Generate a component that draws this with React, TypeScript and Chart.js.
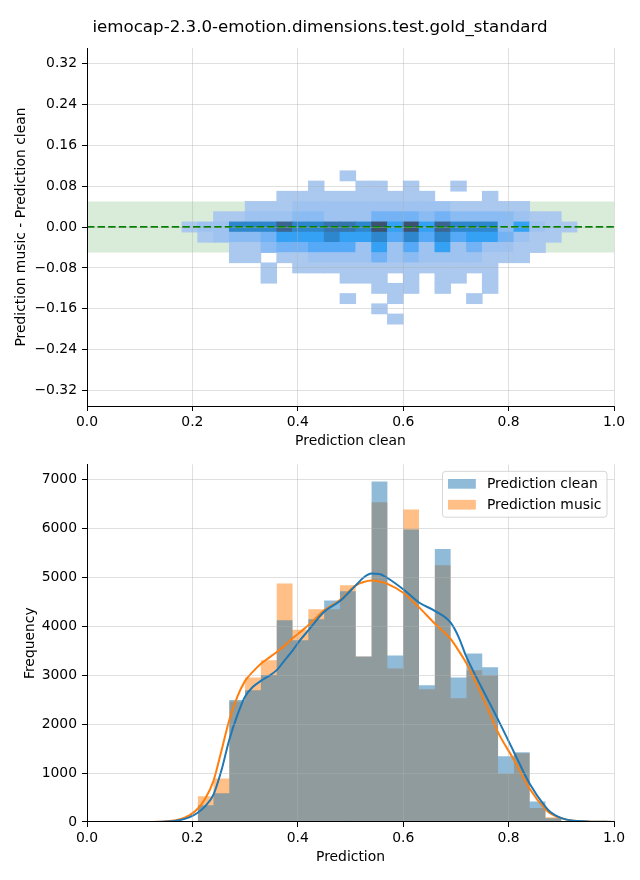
import React, { useEffect, useRef } from "react";
import { Chart, registerables } from "chart.js";

Chart.register(...registerables);

const FONT = "'DejaVu Sans', 'Liberation Sans', sans-serif";
const TICK_SIZE = 13.9;
const GRID = "rgba(176,176,176,0.5)";

const TITLE = "iemocap-2.3.0-emotion.dimensions.test.gold_standard";
const TOP_X_LABEL = "Prediction clean";
const TOP_Y_LABEL = "Prediction music - Prediction clean";
const BOTTOM_X_LABEL = "Prediction";
const BOTTOM_Y_LABEL = "Frequency";
const LEGEND_LABELS = ["Prediction clean", "Prediction music"];

const X_TICKS = [0, 0.2, 0.4, 0.6, 0.8, 1.0];
const DIFF_TICKS = [-0.32, -0.24, -0.16, -0.08, 0, 0.08, 0.16, 0.24, 0.32];
const FREQ_TICKS = [0, 1000, 2000, 3000, 4000, 5000, 6000, 7000];
const X_RANGE = [0, 1];
const DIFF_RANGE = [-0.35, 0.35];
const FREQ_RANGE = [0, 7300];

// top panel: tolerance band and zero line
const BAND_LIMITS = [-0.05, 0.05];
const ZERO_LINE = 0;

// top panel: 2D histogram cells (columns by prediction clean, rows by difference)
const CELL_X_EDGES = [0.18, 0.21, 0.24, 0.27, 0.3, 0.33, 0.36, 0.39, 0.42, 0.45, 0.48, 0.51, 0.54, 0.57, 0.6, 0.63, 0.66, 0.69, 0.72, 0.75, 0.78, 0.81, 0.84, 0.87, 0.9, 0.93];
const CELL_Y_CENTERS = [0.1, 0.08, 0.06, 0.04, 0.02, 0, -0.02, -0.04, -0.06, -0.08, -0.1, -0.12, -0.14, -0.16, -0.18];
const CELL_Y_HEIGHT = 0.02;
const HEAT_LEVELS = [
  "0000000000100000000000000",
  "0000000010011010010000000",
  "0000001111111111000100000",
  "0000111222222222211111000",
  "0011222332224443433332110",
  "122777977887A6A6977736211",
  "0123346667667575756642110",
  "0001134455526252624221100",
  "0001101122224232222111000",
  "0000010111111111111100000",
  "0000010000111010110100000",
  "0000000000001110100100000",
  "0000000000100100001000000",
  "0000000000001000000000000",
  "0000000000000100000000000",
];
const LEVEL_COLORS = ["", "#abc8ee", "#9ec3f1", "#8abcf3", "#72b2f5", "#56a9f6", "#35a1f4", "#2e87cd", "#3574ad", "#3b6590", "#3d5270"];

// bottom panel: histograms
const HIST_EDGES = [0.21, 0.24, 0.27, 0.3, 0.33, 0.36, 0.39, 0.42, 0.45, 0.48, 0.51, 0.54, 0.57, 0.6, 0.63, 0.66, 0.69, 0.72, 0.75, 0.78, 0.81, 0.84, 0.87, 0.9, 0.93];
const CLEAN_COUNTS = [340, 585, 2490, 2690, 3000, 4120, 3710, 4140, 4520, 4710, 3380, 6950, 3400, 5970, 2790, 5570, 2950, 3440, 3160, 1340, 1425, 420, 75, 15];
const MUSIC_COUNTS = [525, 890, 2460, 2950, 3300, 4870, 3925, 4340, 4340, 4830, 3380, 6525, 3135, 6380, 2710, 5240, 2525, 3095, 2995, 985, 1405, 285, 95, 20];

// bottom panel: KDE curves (scaled to counts)
const KDE_X = [0.125, 0.15, 0.175, 0.195, 0.21, 0.225, 0.24, 0.255, 0.27, 0.285, 0.3, 0.315, 0.33, 0.345, 0.36, 0.375, 0.39, 0.405, 0.42, 0.45, 0.48, 0.51, 0.525, 0.54, 0.555, 0.57, 0.6, 0.63, 0.66, 0.69, 0.705, 0.72, 0.75, 0.78, 0.81, 0.84, 0.87, 0.88, 0.91, 0.95, 1.0];
const CLEAN_KDE = [0, 8, 35, 100, 190, 330, 560, 1050, 1680, 2170, 2560, 2760, 2880, 2980, 3100, 3300, 3500, 3720, 3910, 4290, 4510, 4830, 4990, 5070, 5060, 4980, 4750, 4480, 4310, 4070, 3780, 3370, 2720, 2090, 1430, 780, 310, 200, 48, 12, 1];
const MUSIC_KDE = [0, 12, 50, 140, 270, 490, 840, 1450, 2080, 2550, 2880, 3070, 3230, 3350, 3470, 3600, 3750, 3880, 4015, 4320, 4530, 4830, 4900, 4930, 4910, 4860, 4680, 4380, 4050, 3740, 3500, 3240, 2570, 1830, 1270, 680, 260, 170, 48, 10, 1];

const BLUE = "#1f77b4";
const ORANGE = "#ff7f0e";
const BLUE_FILL = "rgba(31,119,180,0.5)";
const ORANGE_FILL = "rgba(255,127,14,0.5)";

const fmtMinus = (v: number, d: number) => (v < -1e-9 ? "\u2212" : "") + Math.abs(v).toFixed(d);

function xAxis(height: number, label: string, titlePad: number) {
  return {
    type: "linear",
    min: X_RANGE[0],
    max: X_RANGE[1],
    offset: false,
    afterBuildTicks: (s: any) => {
      s.ticks = X_TICKS.map((v) => ({ value: v }));
    },
    afterFit: (s: any) => {
      s.height = height;
    },
    ticks: {
      callback: (v: any) => Number(v).toFixed(1),
      color: "#000",
      font: { family: FONT, size: TICK_SIZE },
      padding: 3,
      maxRotation: 0,
      autoSkip: false,
    },
    grid: { color: GRID, lineWidth: 0.8, z: 1, tickColor: "#000", tickLength: 5, tickWidth: 1, offset: false },
    border: { color: "#000", width: 1, z: 2 },
    title: { display: true, text: label, color: "#000", font: { family: FONT, size: TICK_SIZE }, padding: { top: 0, bottom: titlePad } },
  };
}

function yAxis(range: number[], ticks: number[], fmt: (v: number) => string, label: string, titlePad: number) {
  return {
    type: "linear",
    min: range[0],
    max: range[1],
    afterBuildTicks: (s: any) => {
      s.ticks = ticks.map((v) => ({ value: v }));
    },
    afterFit: (s: any) => {
      s.width = 87;
    },
    ticks: {
      callback: (v: any) => fmt(Number(v)),
      color: "#000",
      font: { family: FONT, size: TICK_SIZE },
      padding: 5,
      autoSkip: false,
    },
    grid: { color: GRID, lineWidth: 0.8, z: 1, tickColor: "#000", tickLength: 5, tickWidth: 1 },
    border: { color: "#000", width: 1, z: 2 },
    title: { display: true, text: label, color: "#000", font: { family: FONT, size: TICK_SIZE }, padding: { top: titlePad, bottom: 0 } },
  };
}

const suptitlePlugin = {
  id: "suptitle",
  afterDraw(chart: any) {
    const ctx = chart.ctx;
    ctx.save();
    ctx.font = `16.67px ${FONT}`;
    ctx.fillStyle = "#000";
    ctx.textAlign = "center";
    ctx.textBaseline = "middle";
    ctx.fillText(TITLE, chart.width / 2, 28);
    ctx.restore();
  },
};

const legendPlugin = {
  id: "mplLegend",
  afterDraw(chart: any) {
    const ctx = chart.ctx;
    const area = chart.chartArea;
    const fs = TICK_SIZE;
    ctx.save();
    ctx.font = `${fs}px ${FONT}`;
    const textW = Math.max(...LEGEND_LABELS.map((l) => ctx.measureText(l).width));
    const pad = 0.4 * fs;
    const handleW = 2.0 * fs;
    const gap = 0.8 * fs;
    const n = LEGEND_LABELS.length;
    const w = pad + handleW + gap + textW + pad;
    const h = pad * 2 + n * fs + (n - 1) * 0.5 * fs;
    const x = area.right - 7 - w;
    const y = area.top + 7;
    ctx.beginPath();
    ctx.roundRect(x, y, w, h, 3);
    ctx.fillStyle = "rgba(255,255,255,0.8)";
    ctx.fill();
    ctx.strokeStyle = "rgba(204,204,204,0.8)";
    ctx.lineWidth = 1;
    ctx.stroke();
    const fills = [BLUE_FILL, ORANGE_FILL];
    LEGEND_LABELS.forEach((label, i) => {
      const cy = y + pad + fs / 2 + i * 1.5 * fs;
      ctx.fillStyle = fills[i];
      ctx.fillRect(x + pad, cy - 0.35 * fs, handleW, 0.7 * fs);
      ctx.fillStyle = "#000";
      ctx.textAlign = "left";
      ctx.textBaseline = "middle";
      ctx.fillText(label, x + pad + handleW + gap, cy + 1);
    });
    ctx.restore();
  },
};

function buildCells() {
  const cells: any[] = [];
  const colors: string[] = [];
  HEAT_LEVELS.forEach((row, r) => {
    for (let c = 0; c < row.length; c++) {
      const lvl = parseInt(row[c], 16);
      if (!lvl) continue;
      cells.push({
        x: (CELL_X_EDGES[c] + CELL_X_EDGES[c + 1]) / 2,
        y: [CELL_Y_CENTERS[r] - CELL_Y_HEIGHT / 2, CELL_Y_CENTERS[r] + CELL_Y_HEIGHT / 2],
      });
      colors.push(LEVEL_COLORS[lvl]);
    }
  });
  return { cells, colors };
}

function histPoints(counts: number[]) {
  return HIST_EDGES.map((e, i) => ({ x: e, y: i < counts.length ? counts[i] : 0 }));
}

export default function App() {
  const topRef = useRef<HTMLCanvasElement>(null);
  const botRef = useRef<HTMLCanvasElement>(null);

  useEffect(() => {
    const { cells, colors } = buildCells();
    const top = new Chart(topRef.current as HTMLCanvasElement, {
      type: "bar",
      data: {
        datasets: [
          {
            type: "line",
            data: [
              { x: X_RANGE[0], y: BAND_LIMITS[1] },
              { x: X_RANGE[1], y: BAND_LIMITS[1] },
            ],
            fill: { value: BAND_LIMITS[0] },
            backgroundColor: "rgba(0,128,0,0.15)",
            borderColor: "rgba(0,0,0,0)",
            borderWidth: 0,
            pointRadius: 0,
            order: 3,
          },
          {
            type: "bar",
            data: cells,
            backgroundColor: colors,
            borderWidth: 0,
            barPercentage: 1,
            categoryPercentage: 1,
            order: 2,
          },
          {
            type: "line",
            data: [
              { x: X_RANGE[0], y: ZERO_LINE },
              { x: X_RANGE[1], y: ZERO_LINE },
            ],
            borderColor: "#008000",
            borderWidth: 2,
            borderDash: [7.4, 3.2],
            pointRadius: 0,
            fill: false,
            order: 1,
          },
        ] as any,
      },
      options: {
        responsive: false,
        animation: false,
        events: [],
        layout: { padding: { left: 0, right: 26, top: 48, bottom: 0 }, autoPadding: false } as any,
        plugins: { legend: { display: false }, tooltip: { enabled: false } },
        scales: {
          x: xAxis(45, TOP_X_LABEL, 1.7) as any,
          y: yAxis(DIFF_RANGE, DIFF_TICKS, (v) => fmtMinus(v, 2), TOP_Y_LABEL, 12.7) as any,
        },
      },
      plugins: [suptitlePlugin],
    });

    const bot = new Chart(botRef.current as HTMLCanvasElement, {
      type: "line",
      data: {
        datasets: [
          {
            label: "kde clean",
            data: KDE_X.map((x, i) => ({ x, y: CLEAN_KDE[i] })),
            borderColor: BLUE,
            borderWidth: 2,
            pointRadius: 0,
            cubicInterpolationMode: "monotone",
            fill: false,
            order: 1,
          },
          {
            label: "kde music",
            data: KDE_X.map((x, i) => ({ x, y: MUSIC_KDE[i] })),
            borderColor: ORANGE,
            borderWidth: 2,
            pointRadius: 0,
            cubicInterpolationMode: "monotone",
            fill: false,
            order: 2,
          },
          {
            label: LEGEND_LABELS[0],
            data: histPoints(CLEAN_COUNTS),
            stepped: "before",
            fill: "origin",
            backgroundColor: BLUE_FILL,
            borderColor: "rgba(0,0,0,0)",
            borderWidth: 0,
            pointRadius: 0,
            order: 3,
          },
          {
            label: LEGEND_LABELS[1],
            data: histPoints(MUSIC_COUNTS),
            stepped: "before",
            fill: "origin",
            backgroundColor: ORANGE_FILL,
            borderColor: "rgba(0,0,0,0)",
            borderWidth: 0,
            pointRadius: 0,
            order: 4,
          },
        ] as any,
      },
      options: {
        responsive: false,
        animation: false,
        events: [],
        layout: { padding: { left: 0, right: 26, top: 13, bottom: 0 }, autoPadding: false } as any,
        plugins: { legend: { display: false }, tooltip: { enabled: false } },
        scales: {
          x: xAxis(58, BOTTOM_X_LABEL, 14.7) as any,
          y: yAxis(FREQ_RANGE, FREQ_TICKS, (v) => String(Math.round(v)), BOTTOM_Y_LABEL, 21.7) as any,
        },
      },
      plugins: [legendPlugin],
    });

    return () => {
      top.destroy();
      bot.destroy();
    };
  }, []);

  return (
    <div style={{ position: "absolute", left: 0, top: 0, width: 640, height: 880, background: "#fff" }}>
      <canvas ref={topRef} width={640} height={451} style={{ display: "block", width: 640, height: 451 }} />
      <canvas ref={botRef} width={640} height={429} style={{ display: "block", width: 640, height: 429 }} />
    </div>
  );
}
